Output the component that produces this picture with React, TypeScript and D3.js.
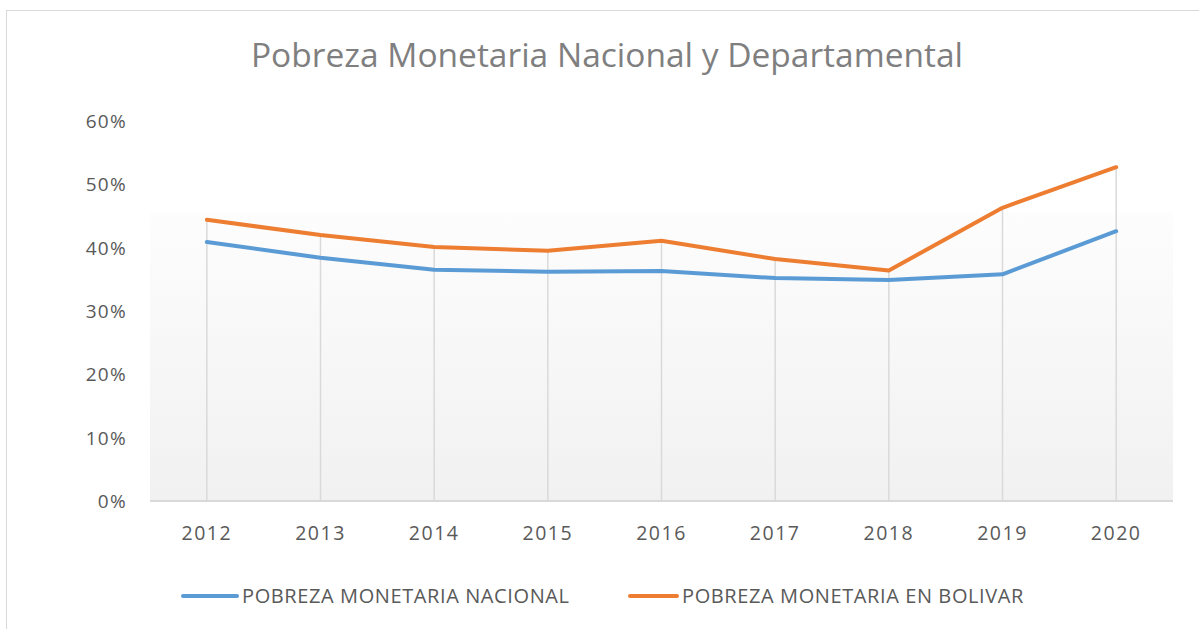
import React from "react";
import * as d3 from "d3";

const years = ["2012", "2013", "2014", "2015", "2016", "2017", "2018", "2019", "2020"];
const nacional = [0.409, 0.384, 0.365, 0.362, 0.363, 0.352, 0.349, 0.358, 0.426];
const bolivar = [0.444, 0.42, 0.401, 0.395, 0.411, 0.382, 0.364, 0.463, 0.527];
const yTicks = [0, 0.1, 0.2, 0.3, 0.4, 0.5, 0.6];
const seriesNames = ["POBREZA MONETARIA NACIONAL", "POBREZA MONETARIA EN BOLIVAR"];
const title = "Pobreza Monetaria Nacional y Departamental";

const W = 1199, H = 629;
const plot = { left: 150, right: 1173, top: 121, bottom: 501 };
const font = "'Open Sans', 'DejaVu Sans', sans-serif";

export default function App() {
  const x = d3.scaleBand<string>().domain(years).range([plot.left, plot.right]);
  const y = d3.scaleLinear().domain([0, 0.6]).range([plot.bottom, plot.top]);
  const cx = (d: string) => (x(d) as number) + x.bandwidth() / 2;
  const line = d3.line<number>().x((_, i) => cx(years[i])).y((v) => y(v));
  const fmt = d3.format(".0%");
  const colors = ["#5b9bd5", "#ed7d31"];
  const data = [nacional, bolivar];

  return (
    <svg width={W} height={H} style={{ position: "absolute", left: 0, top: 0, background: "#fff" }}>
      <defs>
        <linearGradient id="bg" x1="0" y1="0" x2="0" y2="1">
          <stop offset="0" stopColor="#fdfdfd" />
          <stop offset="1" stopColor="#f1f1f1" />
        </linearGradient>
      </defs>
      <rect x={6.5} y={10.5} width={W + 10} height={H + 10} fill="#fff" stroke="#d9d9d9" strokeWidth={1} />
      <rect x={plot.left} y={y(0.456)} width={plot.right - plot.left} height={plot.bottom - y(0.456)} fill="url(#bg)" />
      <text x={607} y={67} textAnchor="middle" fontFamily={font} fontSize={33.5} fill="#7f7f7f">{title}</text>
      {yTicks.map((t) => (
        <text key={t} x={127} y={y(t)} dy="0.36em" textAnchor="end" fontFamily={font} fontSize={19} letterSpacing={1.3} fill="#595959">{fmt(t)}</text>
      ))}
      {years.map((yr, i) => (
        <line key={yr} x1={cx(yr)} x2={cx(yr)} y1={y(Math.max(nacional[i], bolivar[i]))} y2={plot.bottom} stroke="#d9d9d9" strokeWidth={1.5} />
      ))}
      <line x1={plot.left} x2={plot.right} y1={plot.bottom} y2={plot.bottom} stroke="#d9d9d9" strokeWidth={2} />
      {years.map((yr) => (
        <text key={yr} x={cx(yr)} y={540} textAnchor="middle" fontFamily={font} fontSize={19.5} letterSpacing={1.5} fill="#595959">{yr}</text>
      ))}
      {data.map((s, i) => (
        <path key={i} d={line(s) as string} fill="none" stroke={colors[i]} strokeWidth={4} strokeLinecap="round" strokeLinejoin="round" />
      ))}
      {[{ x1: 183, x2: 237, tx: 242 }, { x1: 630, x2: 677, tx: 682 }].map((l, i) => (
        <g key={i}>
          <line x1={l.x1} x2={l.x2} y1={596} y2={596} stroke={colors[i]} strokeWidth={4} strokeLinecap="round" />
          <text x={l.tx} y={603} fontFamily={font} fontSize={20} letterSpacing={0.6} fill="#595959">{seriesNames[i]}</text>
        </g>
      ))}
    </svg>
  );
}
